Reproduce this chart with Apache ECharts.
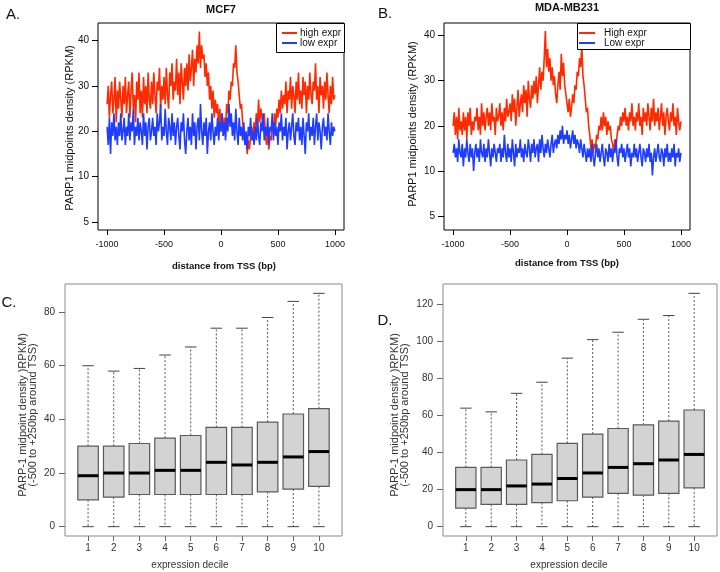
<!DOCTYPE html>
<html><head><meta charset="utf-8">
<script src="https://cdn.jsdelivr.net/npm/echarts@6/dist/echarts.min.js"></script>
<style>html,body{margin:0;padding:0;background:#fff}#c{width:720px;height:572px}</style>
</head><body><div id="c"></div>
<script>
// ---- Panel A/B: distance from TSS, 10 bp steps from -1000 to 1000 ----
const distStart = -1000, distStep = 10;
const mcf7High = [
26,30,23,28,31,24,27,32,22,29, 25,31,27,23,30,26,32,24,28,31,
23,29,33,25,28,22,31,27,33,24, 29,23,32,26,30,24,33,27,25,31,
26,33,28,24,31,29,34,25,30,27, 32,26,34,28,25,33,30,35,27,31,
29,36,28,33,26,35,31,27,34,30, 35,29,37,31,34,38,30,36,33,39,
35,42,34,39,36,37,32,35,30,33, 27,30,25,29,23,27,24,26,21,25,
20,24,19,23,21,26,24,29,27,31, 30,35,34,39,33,31,28,25,26,22,
20,17,19,15,18,16,19,21,18,22, 20,24,21,27,22,25,23,21,24,19,
17,20,16,19,18,22,20,24,21,25, 23,27,24,29,25,28,26,31,24,29,
27,32,25,30,28,24,31,27,33,26, 29,25,32,28,31,24,30,27,33,28,
26,31,29,35,27,30,24,32,28,30, 25,31,27,33,28,24,30,26,32,27, 28];
const mcf7Low = [
21,17,23,15,22,19,24,18,21,17, 22,19,24,18,20,23,17,21,19,24,
18,22,20,25,17,21,19,23,18,22, 20,17,24,19,22,16,21,23,18,20,
23,19,21,17,24,20,22,26,18,21, 19,25,20,17,23,21,18,24,19,22,
17,21,23,19,16,22,20,24,18,15, 20,23,18,21,17,24,19,22,16,21,
23,18,26,20,17,22,19,23,15,20, 22,18,24,20,17,21,19,23,18,22,
20,24,19,22,18,23,20,26,21,24, 19,22,18,25,20,17,23,19,21,18,
22,17,20,16,21,19,23,18,20,17, 21,18,23,19,17,22,20,24,18,21,
19,23,17,21,20,24,18,22,19,21, 17,22,20,24,18,21,19,23,16,20,
22,18,21,24,19,17,22,20,23,18, 21,17,23,19,15,22,20,24,18,21,
19,23,17,21,24,18,22,20,16,21, 23,19,21,18,24,20,17,22,19,21, 20];
const mdaHigh = [
20,23,18,22,17,24,19,21,18,23, 19,22,17,23,20,24,18,21,19,22,
21,24,19,22,18,25,20,23,19,22, 24,20,23,19,25,21,22,18,24,21,
22,25,20,23,19,24,21,26,22,23, 25,21,27,23,26,20,24,28,22,25,
27,23,29,25,28,22,30,26,24,29, 26,30,27,31,25,29,33,28,32,30,
35,41,33,37,32,35,30,33,29,31, 27,25,29,32,28,36,31,34,29,27,
25,23,26,22,24,27,25,29,28,32, 31,35,33,38,31,29,26,23,24,20,
18,15,17,14,16,15,18,17,20,19, 22,19,23,20,22,18,21,19,20,17,
16,14,17,15,18,20,19,22,20,23, 21,24,20,22,19,23,21,25,20,22,
19,23,21,25,20,22,18,24,21,23, 20,25,22,19,24,21,26,20,23,21,
24,19,22,25,20,23,18,22,24,21, 19,23,21,25,20,22,18,24,21,19, 21];
const mdaLow = [
14,16,13,15,12,17,14,13,16,11, 15,13,17,14,12,16,13,15,10,14,
16,13,15,12,17,14,13,16,12,15, 13,17,14,11,15,13,16,14,12,15,
14,16,12,15,13,18,14,12,16,13, 15,12,17,14,11,16,13,15,14,17,
13,15,12,16,14,13,17,15,12,16, 14,17,13,15,16,12,17,14,18,15,
13,16,14,17,15,13,16,18,14,16, 17,15,18,16,19,17,20,16,18,17,
19,16,18,15,17,19,16,18,15,17, 16,14,17,15,13,16,14,12,15,13,
15,12,16,13,11,14,16,13,15,12, 14,16,13,11,15,14,12,16,13,15,
12,15,14,17,13,11,15,14,16,13, 15,12,14,16,13,15,11,14,13,16,
13,15,12,14,16,13,11,15,14,12, 15,13,16,12,14,9,13,15,12,14,
16,13,12,15,14,11,15,13,16,12, 14,12,15,13,16,11,14,13,15,12, 14];
const distTicks = [-1000, -500, 0, 500, 1000];
const densityTickVals = [0, 10, 20, 30, 40];
const densityTickLabels = ['5', '10', '20', '30', '40'];

// ---- Panel C/D: boxplots per expression decile ----
const deciles = [1, 2, 3, 4, 5, 6, 7, 8, 9, 10];
const mcf7Min = [0, 0, 0, 0, 0, 0, 0, 0, 0, 0];
const mcf7Q1  = [10, 11, 12, 12, 12, 12, 12, 13, 14, 15];
const mcf7Med = [19, 20, 20, 21, 21, 24, 23, 24, 26, 28];
const mcf7Q3  = [30, 30, 31, 33, 34, 37, 37, 39, 42, 44];
const mcf7Max = [60, 58, 59, 64, 67, 74, 74, 78, 84, 87];
const mdaMin = [0, 0, 0, 0, 0, 0, 0, 0, 0, 0];
const mdaQ1  = [10, 12, 12, 13, 14, 16, 18, 17, 18, 21];
const mdaMed = [20, 20, 22, 23, 26, 29, 32, 34, 36, 39];
const mdaQ3  = [32, 32, 36, 39, 45, 50, 53, 55, 57, 63];
const mdaMax = [64, 62, 72, 78, 91, 101, 105, 112, 114, 126];
const cTicks = [0, 20, 40, 60, 80];
const dTicks = [0, 20, 40, 60, 80, 100, 120];

const FONT = 'Liberation Sans, Arial, Helvetica, sans-serif';
const RED = '#ff2a00', BLUE = '#1f3dff';

function pairs(arr) { return arr.map((v, i) => [distStart + i * distStep, v]); }
function boxRows(mn, q1, md, q3, mx) { return deciles.map((d, i) => [d, mn[i], q1[i], md[i], q3[i], mx[i]]); }

function renderBox(params, api) {
  const x = api.value(0);
  const pLo = api.coord([x, api.value(1)]);
  const pQ1 = api.coord([x, api.value(2)]);
  const pMd = api.coord([x, api.value(3)]);
  const pQ3 = api.coord([x, api.value(4)]);
  const pHi = api.coord([x, api.value(5)]);
  const bw = api.size([0.8, 0])[0];
  const cw = api.size([0.45, 0])[0];
  const cx = pMd[0];
  const wStyle = { stroke: '#555', lineWidth: 1, lineDash: [2, 2] };
  const cStyle = { stroke: '#444', lineWidth: 1 };
  return { type: 'group', children: [
    { type: 'line', shape: { x1: cx, y1: pQ3[1], x2: cx, y2: pHi[1] }, style: wStyle },
    { type: 'line', shape: { x1: cx, y1: pQ1[1], x2: cx, y2: pLo[1] }, style: wStyle },
    { type: 'line', shape: { x1: cx - cw / 2, y1: pHi[1], x2: cx + cw / 2, y2: pHi[1] }, style: cStyle },
    { type: 'line', shape: { x1: cx - cw / 2, y1: pLo[1], x2: cx + cw / 2, y2: pLo[1] }, style: cStyle },
    { type: 'rect', shape: { x: cx - bw / 2, y: pQ3[1], width: bw, height: pQ1[1] - pQ3[1] },
      style: { fill: '#d3d3d3', stroke: '#5a5a5a', lineWidth: 1.2 } },
    { type: 'line', shape: { x1: cx - bw / 2, y1: pMd[1], x2: cx + bw / 2, y2: pMd[1] },
      style: { stroke: '#000', lineWidth: 3 } }
  ]};
}

const plain = (v) => String(v);
const topX = (gi) => ({
  type: 'value', gridIndex: gi, min: -1080, max: 1080,
  splitLine: { show: false }, axisLine: { show: false, onZero: false },
  axisTick: { show: true, length: 5, customValues: distTicks, lineStyle: { color: '#000' } },
  axisLabel: { customValues: distTicks, fontSize: 9, margin: 10, color: '#111', fontFamily: FONT, formatter: plain }
});
const topY = (gi, mn, mx) => ({
  type: 'value', gridIndex: gi, min: mn, max: mx,
  splitLine: { show: false }, axisLine: { show: false, onZero: false },
  axisTick: { show: true, length: 6, customValues: densityTickVals, lineStyle: { color: '#000' } },
  axisLabel: { customValues: densityTickVals, fontSize: 10, margin: 9, color: '#111', fontFamily: FONT,
    formatter: (v) => { const k = densityTickVals.indexOf(v); return k >= 0 ? densityTickLabels[k] : ''; } }
});
const botX = (gi) => ({
  type: 'value', gridIndex: gi, min: 0.1, max: 10.9,
  splitLine: { show: false }, axisLine: { show: false, onZero: false },
  axisTick: { show: true, length: 5, customValues: deciles, lineStyle: { color: '#666' } },
  axisLabel: { customValues: deciles, fontSize: 10, margin: 7, color: '#333', fontFamily: FONT, formatter: plain }
});
const botY = (gi, mn, mx, ticks) => ({
  type: 'value', gridIndex: gi, min: mn, max: mx,
  splitLine: { show: false }, axisLine: { show: false, onZero: false },
  axisTick: { show: true, length: 6, customValues: ticks, lineStyle: { color: '#666' } },
  axisLabel: { customValues: ticks, fontSize: 10, margin: 10, color: '#333', fontFamily: FONT, formatter: plain }
});

function txt(text, x, y, opt) {
  return Object.assign({ type: 'text', x: x, y: y, silent: true,
    style: Object.assign({ text: text, fill: '#111', font: '10px ' + FONT, align: 'center', verticalAlign: 'middle' }, opt || {}) });
}
function rtxt(text, x, y, font, fill) {
  return { type: 'text', x: x, y: y, rotation: Math.PI / 2, silent: true,
    style: { text: text, fill: fill || '#111', font: font, align: 'center', verticalAlign: 'middle' } };
}
function legend(x, y, w, h, lx1, lx2, tx, labels) {
  return { type: 'group', children: [
    { type: 'rect', shape: { x: x + 0.5, y: y + 0.5, width: w, height: h }, style: { fill: '#fff', stroke: '#000', lineWidth: 1 }, z: 10 },
    { type: 'line', shape: { x1: lx1, y1: y + 10, x2: lx2, y2: y + 10 }, style: { stroke: RED, lineWidth: 2 }, z: 11 },
    { type: 'line', shape: { x1: lx1, y1: y + 20, x2: lx2, y2: y + 20 }, style: { stroke: BLUE, lineWidth: 2 }, z: 11 },
    { type: 'text', x: tx, y: y + 10, z: 11, style: { text: labels[0], fill: '#111', font: '10px ' + FONT, align: 'left', verticalAlign: 'middle' } },
    { type: 'text', x: tx, y: y + 20, z: 11, style: { text: labels[1], fill: '#111', font: '10px ' + FONT, align: 'left', verticalAlign: 'middle' } }
  ]};
}

const chart = echarts.init(document.getElementById('c'), null, { renderer: 'canvas' });
chart.setOption({
  animation: false,
  backgroundColor: '#fff',
  grid: [
    { left: 98, top: 23, width: 246, height: 207, show: true, borderColor: '#000', borderWidth: 1, containLabel: false },
    { left: 444, top: 23, width: 246, height: 207, show: true, borderColor: '#000', borderWidth: 1, containLabel: false },
    { left: 65, top: 284, width: 277, height: 252, show: true, borderColor: '#8a8a8a', borderWidth: 1, containLabel: false },
    { left: 443, top: 284, width: 274, height: 252, show: true, borderColor: '#8a8a8a', borderWidth: 1, containLabel: false }
  ],
  xAxis: [topX(0), topX(1), botX(2), botX(3)],
  yAxis: [topY(0, -1.76, 43.9), topY(1, -3.1, 42.8), botY(2, -3.48, 90.48, cTicks), botY(3, -5.04, 131.04, dTicks)],
  series: [
    { type: 'line', xAxisIndex: 0, yAxisIndex: 0, data: pairs(mcf7High), showSymbol: false, lineStyle: { color: RED, width: 1.6 }, itemStyle: { color: RED } },
    { type: 'line', xAxisIndex: 0, yAxisIndex: 0, data: pairs(mcf7Low), showSymbol: false, lineStyle: { color: BLUE, width: 1.6 }, itemStyle: { color: BLUE } },
    { type: 'line', xAxisIndex: 1, yAxisIndex: 1, data: pairs(mdaHigh), showSymbol: false, lineStyle: { color: RED, width: 1.6 }, itemStyle: { color: RED } },
    { type: 'line', xAxisIndex: 1, yAxisIndex: 1, data: pairs(mdaLow), showSymbol: false, lineStyle: { color: BLUE, width: 1.6 }, itemStyle: { color: BLUE } },
    { type: 'custom', xAxisIndex: 2, yAxisIndex: 2, data: boxRows(mcf7Min, mcf7Q1, mcf7Med, mcf7Q3, mcf7Max), renderItem: renderBox, encode: { x: 0, y: [1, 5] } },
    { type: 'custom', xAxisIndex: 3, yAxisIndex: 3, data: boxRows(mdaMin, mdaQ1, mdaMed, mdaQ3, mdaMax), renderItem: renderBox, encode: { x: 0, y: [1, 5] } }
  ],
  graphic: [
    txt('A.', 13, 15, { font: '15px ' + FONT }),
    txt('B.', 385, 14, { font: '15px ' + FONT }),
    txt('C.', 9, 303, { font: '15px ' + FONT }),
    txt('D.', 385, 321, { font: '15px ' + FONT }),
    txt('MCF7', 221, 10, { font: 'bold 11px ' + FONT }),
    txt('MDA-MB231', 567, 8, { font: 'bold 11px ' + FONT }),
    txt('distance from TSS (bp)', 224, 266, { font: 'bold 9.5px ' + FONT }),
    txt('distance from TSS (bp)', 567, 263, { font: 'bold 9.5px ' + FONT }),
    rtxt('PARP1 midpoints density (RPKM)', 70, 128, '11px ' + FONT),
    rtxt('PARP1 midpoints density (RPKM)', 413, 124, '11px ' + FONT),
    rtxt('PARP-1 midpoint density )RPKM)', 23, 415, '11px ' + FONT, '#333'),
    rtxt('(-500 to +250bp around TSS)', 33, 415, '11px ' + FONT, '#333'),
    rtxt('PARP-1 midpoint density )RPKM)', 395, 415, '11px ' + FONT, '#333'),
    rtxt('(-500 to +250bp around TSS)', 405, 415, '11px ' + FONT, '#333'),
    txt('expression decile', 190, 565, { font: '10px ' + FONT, fill: '#333' }),
    txt('expression decile', 569, 565, { font: '10px ' + FONT, fill: '#333' }),
    legend(276, 23, 68, 29, 282, 297, 300, ['high expr', 'low expr']),
    legend(577, 23, 113, 26, 579, 595, 604, ['High expr', 'Low expr'])
  ]
});
</script></body></html>
